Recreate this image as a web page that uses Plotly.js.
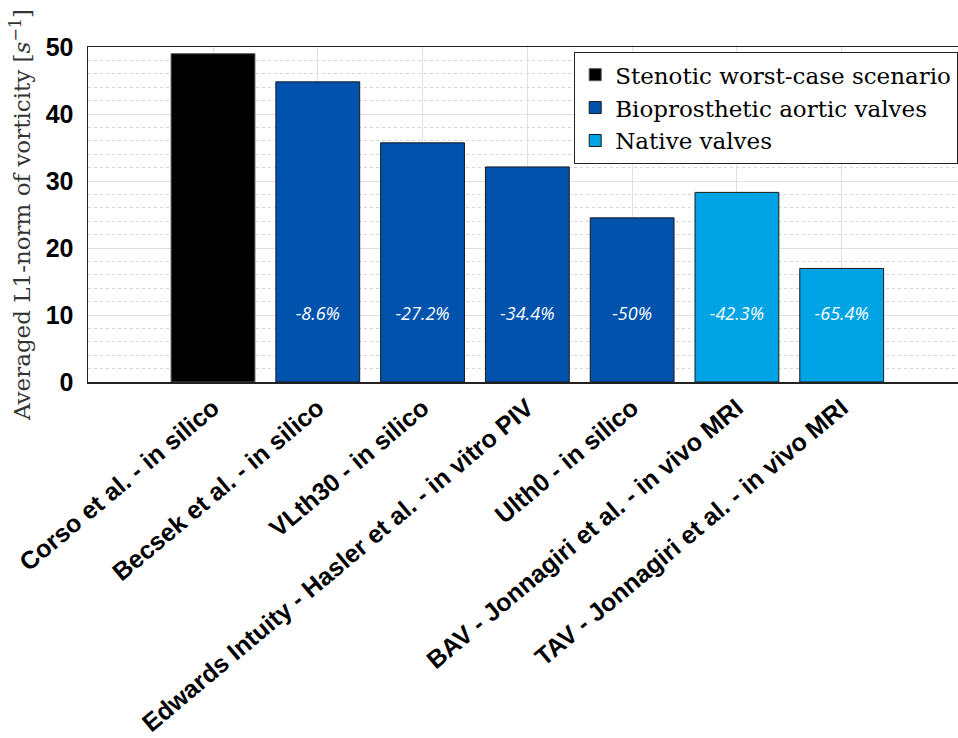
<!DOCTYPE html>
<html>
<head>
<meta charset="utf-8">
<script src="https://cdn.plot.ly/plotly-3.0.1.min.js"></script>
<style>html,body{margin:0;padding:0;background:#fff;}#chart{width:958px;height:738px;}</style>
</head>
<body>
<div id="chart"></div>
<script>
const categories = [
  "Corso et al. - in silico",
  "Becsek et al. - in silico",
  "VLth30 - in silico",
  "Edwards Intuity - Hasler et al. - in vitro PIV",
  "Ulth0 - in silico",
  "BAV - Jonnagiri et al. - in vivo MRI",
  "TAV - Jonnagiri et al. - in vivo MRI"
];
const stenoticCats = ["Corso et al. - in silico"];
const stenoticVals = [49.0];
const bioCats = ["Becsek et al. - in silico", "VLth30 - in silico", "Edwards Intuity - Hasler et al. - in vitro PIV", "Ulth0 - in silico"];
const bioVals = [44.8, 35.7, 32.1, 24.5];
const nativeCats = ["BAV - Jonnagiri et al. - in vivo MRI", "TAV - Jonnagiri et al. - in vivo MRI"];
const nativeVals = [28.3, 16.95];
const pctCats = bioCats.concat(nativeCats);
const pctLabels = ["-8.6%", "-27.2%", "-34.4%", "-50%", "-42.3%", "-65.4%"];
const pctLabelLevel = 10;
const seriesNames = ["Stenotic worst-case scenario", "Bioprosthetic aortic valves", "Native valves"];

const barLine = {color: "#1a1a1a", width: 1};
const traces = [
  {type: "bar", x: stenoticCats, y: stenoticVals, name: seriesNames[0], width: 0.8,
   marker: {color: "#000000", line: {color: "#555555", width: 1}}, hoverinfo: "x+y"},
  {type: "bar", x: bioCats, y: bioVals, name: seriesNames[1], width: 0.8,
   marker: {color: "#0052ad", line: barLine}, hoverinfo: "x+y"},
  {type: "bar", x: nativeCats, y: nativeVals, name: seriesNames[2], width: 0.8,
   marker: {color: "#00a3e3", line: barLine}, hoverinfo: "x+y"},
  {type: "scatter", mode: "text", x: pctCats, y: pctCats.map(() => pctLabelLevel),
   text: pctLabels, showlegend: false, hoverinfo: "skip",
   textfont: {family: "Open Sans", size: 18, color: "#ffffff", style: "italic"}}
];

const layout = {
  width: 958, height: 738,
  margin: {l: 88, r: 0, t: 47, b: 356, pad: 0},
  paper_bgcolor: "#ffffff", plot_bgcolor: "#ffffff",
  barmode: "overlay",
  showlegend: true,
  legend: {
    x: 1, xanchor: "right", y: 0.985, yanchor: "top",
    bgcolor: "#ffffff", bordercolor: "#222222", borderwidth: 1.2,
    font: {family: "DejaVu Serif", size: 23, color: "#000000"},
    tracegroupgap: 0, itemwidth: 30
  },
  xaxis: {
    type: "category", categoryorder: "array", categoryarray: categories,
    range: [-1.193, 7.11],
    showgrid: true, gridcolor: "#e0e0e0", gridwidth: 1,
    showline: true, linecolor: "#222222", linewidth: 1.5, mirror: true,
    ticks: "", tickangle: -40,
    tickfont: {family: "Liberation Sans", size: 25, color: "#000000", weight: "bold"},
    zeroline: false, fixedrange: true
  },
  yaxis: {
    range: [0, 50], dtick: 10, tick0: 0,
    showgrid: true, gridcolor: "#e0e0e0", gridwidth: 1,
    minor: {dtick: 2, showgrid: true, gridcolor: "#d6d6d6", griddash: "dot", gridwidth: 1},
    showline: true, linecolor: "#222222", linewidth: 1.5, mirror: false,
    ticks: "", ticklabelstandoff: 8,
    tickfont: {family: "Liberation Sans", size: 25, color: "#000000", weight: "bold"},
    title: {text: "Averaged L1-norm of vorticity [<i>s</i><sup>−1</sup>]", standoff: 8,
            font: {family: "DejaVu Serif", size: 23, color: "#333333"}},
    zeroline: false, fixedrange: true
  }
};

Plotly.newPlot("chart", traces, layout, {displayModeBar: false, staticPlot: true});
</script>
</body>
</html>
